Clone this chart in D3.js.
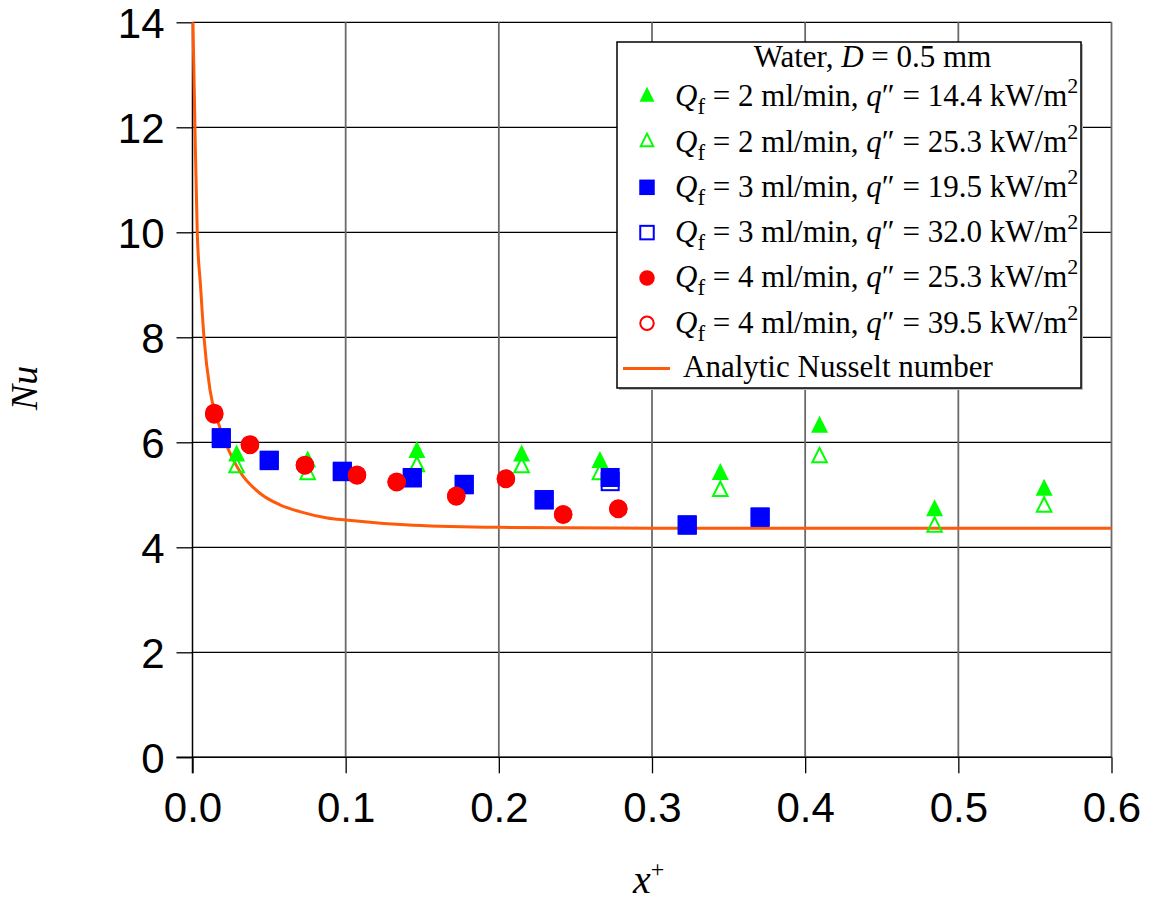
<!DOCTYPE html>
<html>
<head>
<meta charset="utf-8">
<script src="https://cdn.jsdelivr.net/npm/d3@7"></script>
<style>
  html, body { margin: 0; padding: 0; background: #fff; }
  svg { display: block; }
</style>
</head>
<body>
<svg id="chart" width="1149" height="902"></svg>
<script>
// Axis ticks
const xTicks = [0, 0.1, 0.2, 0.3, 0.4, 0.5, 0.6];
const yTicks = [0, 2, 4, 6, 8, 10, 12, 14];

// Qf = 2 ml/min, q'' = 14.4 kW/m2 (filled triangles)
const q2aX  = [0.0288, 0.0752, 0.1465, 0.2149, 0.2660, 0.3446, 0.4094, 0.4845, 0.5560];
const q2aNu = [5.74, 5.63, 5.81, 5.74, 5.62, 5.39, 6.29, 4.70, 5.09];
// Qf = 2 ml/min, q'' = 25.3 kW/m2 (open triangles)
const q2bX  = [0.0288, 0.0752, 0.1465, 0.2149, 0.2660, 0.3446, 0.4094, 0.4845, 0.5560];
const q2bNu = [5.52, 5.39, 5.54, 5.52, 5.39, 5.07, 5.71, 4.39, 4.77];
// Qf = 3 ml/min, q'' = 19.5 kW/m2 (filled squares)
const q3aX  = [0.0188, 0.0501, 0.0978, 0.1435, 0.1774, 0.2296, 0.2727, 0.3230, 0.3706];
const q3aNu = [6.09, 5.66, 5.45, 5.33, 5.20, 4.91, 5.33, 4.43, 4.58];
// Qf = 3 ml/min, q'' = 32.0 kW/m2 (open squares)
const q3bX  = [0.0188, 0.0501, 0.0978, 0.1435, 0.1774, 0.2296, 0.2727, 0.3230, 0.3706];
const q3bNu = [6.07, 5.65, 5.44, 5.32, 5.19, 4.90, 5.25, 4.42, 4.57];
// Qf = 4 ml/min, q'' = 25.3 kW/m2 (filled circles)
const q4aX  = [0.0142, 0.0375, 0.0734, 0.1074, 0.1333, 0.1722, 0.2046, 0.2420, 0.2780];
const q4aNu = [6.53, 5.96, 5.57, 5.38, 5.25, 4.98, 5.31, 4.63, 4.74];
// Qf = 4 ml/min, q'' = 39.5 kW/m2 (open circles)
const q4bX  = [0.0142, 0.0375, 0.0734, 0.1074, 0.1333, 0.1722, 0.2046, 0.2420, 0.2780];
const q4bNu = [6.56, 5.95, 5.56, 5.37, 5.24, 4.97, 5.30, 4.62, 4.73];

// Analytic Nusselt number along the tube
const anX  = [0.0003, 0.0016, 0.0031, 0.0052, 0.0075, 0.0114, 0.0160, 0.0212, 0.0310, 0.0440, 0.0570, 0.0700, 0.0880, 0.1000, 0.1440, 0.2000, 0.3000, 0.4000, 0.6000];
const anNu = [14.0, 12.0, 10.0, 9.0, 8.0, 7.0, 6.45, 6.02, 5.44, 5.03, 4.81, 4.68, 4.56, 4.52, 4.42, 4.38, 4.365, 4.364, 4.364];

const legendLabels = [
  { n: "2", q: "14.4" },
  { n: "2", q: "25.3" },
  { n: "3", q: "19.5" },
  { n: "3", q: "32.0" },
  { n: "4", q: "25.3" },
  { n: "4", q: "39.5" }
];

const GREEN = "#00ff00", BLUE = "#0000ff", RED = "#ff0000", ORANGE = "#ff5a0a";
const SERIF = "'Liberation Serif', 'Times New Roman', serif";
const SANS = "'Liberation Sans', Arial, sans-serif";

const svg = d3.select("#chart");
const x = d3.scaleLinear().domain([0, 0.6]).range([192.5, 1111.5]);
const y = d3.scaleLinear().domain([0, 14]).range([757.3, 22.3]);

// Grid
const grid = svg.append("g");
grid.selectAll("line.h").data(yTicks).join("line")
  .attr("x1", x(0)).attr("x2", x(0.6))
  .attr("y1", d => y(d)).attr("y2", d => y(d))
  .attr("stroke", "#000").attr("stroke-width", 1.3);
grid.selectAll("line.v").data(xTicks.slice(1)).join("line")
  .attr("x1", d => x(d)).attr("x2", d => x(d))
  .attr("y1", y(14)).attr("y2", y(0))
  .attr("stroke", "#6a6a6a").attr("stroke-width", 1.8);

// Axes
const yAxis = d3.axisLeft(y).tickValues(yTicks).tickFormat(d3.format("d")).tickSize(16).tickPadding(12);
const xAxis = d3.axisBottom(x).tickValues(xTicks).tickFormat(d3.format(".1f")).tickSize(16).tickPadding(19);
const gy = svg.append("g").attr("transform", `translate(${x(0)},0)`).call(yAxis);
const gx = svg.append("g").attr("transform", `translate(0,${y(0)})`).call(xAxis);
[gx, gy].forEach(g => {
  g.select(".domain").remove();
  g.selectAll(".tick line").attr("stroke", "#000").attr("stroke-width", 1.3);
  g.selectAll(".tick text").attr("fill", "#000").style("font-family", SANS).style("font-size", "42px");
});
gy.selectAll(".tick text").attr("dy", "0.37em");
svg.append("line").attr("x1", x(0)).attr("x2", x(0)).attr("y1", y(14)).attr("y2", y(0) + 16)
  .attr("stroke", "#000").attr("stroke-width", 1.5);
svg.append("line").attr("x1", x(0) - 16).attr("x2", x(0.6)).attr("y1", y(0)).attr("y2", y(0))
  .attr("stroke", "#000").attr("stroke-width", 1.5);

// Analytic curve
const line = d3.line().x(d => x(d[0])).y(d => y(d[1])).curve(d3.curveMonotoneX);
svg.append("path").datum(d3.zip(anX, anNu)).attr("d", line)
  .attr("fill", "none").attr("stroke", ORANGE).attr("stroke-width", 3);

// Marker shapes
function triPath(w, h) {
  return `M0,${-2 * h / 3}L${w / 2},${h / 3}L${-w / 2},${h / 3}Z`;
}
function drawMarker(g, kind, size) {
  const s = size;
  if (kind === "triF") {
    g.append("path").attr("d", triPath(s, s)).attr("fill", GREEN);
  } else if (kind === "triO") {
    g.append("path").attr("d", triPath(s - 2.5, s - 2.5)).attr("fill", "none").attr("stroke", GREEN).attr("stroke-width", 2);
  } else if (kind === "sqF") {
    g.append("rect").attr("x", -s / 2).attr("y", -s / 2).attr("width", s).attr("height", s).attr("fill", BLUE);
  } else if (kind === "sqO") {
    g.append("rect").attr("x", -s / 2 + 1).attr("y", -s / 2 + 1).attr("width", s - 2).attr("height", s - 2)
      .attr("fill", "none").attr("stroke", BLUE).attr("stroke-width", 2);
  } else if (kind === "ciF") {
    g.append("circle").attr("r", s / 2).attr("fill", RED);
  } else if (kind === "ciO") {
    g.append("circle").attr("r", s / 2 - 1).attr("fill", "none").attr("stroke", RED).attr("stroke-width", 2);
  }
}

const series = [
  { xs: q2aX, ys: q2aNu, kind: "triF", size: 17 },
  { xs: q2bX, ys: q2bNu, kind: "triO", size: 17 },
  { xs: q3bX, ys: q3bNu, kind: "sqO", size: 19 },
  { xs: q3aX, ys: q3aNu, kind: "sqF", size: 19 },
  { xs: q4bX, ys: q4bNu, kind: "ciO", size: 18.5 },
  { xs: q4aX, ys: q4aNu, kind: "ciF", size: 18.5 }
];
series.forEach(s => {
  const g = svg.append("g");
  d3.zip(s.xs, s.ys).forEach(p => {
    const m = g.append("g").attr("transform", `translate(${x(p[0])},${y(p[1])})`);
    drawMarker(m, s.kind, s.size);
  });
});

// Legend
const FS = "31px";
const lg = svg.append("g");
lg.append("rect").attr("x", 619).attr("y", 44).attr("width", 464).attr("height", 346).attr("fill", "#bbb");
lg.append("rect").attr("x", 617).attr("y", 42).attr("width", 464).attr("height", 346)
  .attr("fill", "#fff").attr("stroke", "#000").attr("stroke-width", 1.5);

const title = lg.append("text").attr("x", 872.5).attr("y", 67).attr("text-anchor", "middle")
  .style("font-family", SERIF).style("font-size", FS).attr("fill", "#000");
title.append("tspan").text("Water, ");
title.append("tspan").attr("font-style", "italic").text("D");
title.append("tspan").text(" = 0.5 mm");

const legendKinds = ["triF", "triO", "sqF", "sqO", "ciF", "ciO"];
legendLabels.forEach((d, i) => {
  const cy = 96.7 + i * 45.3;
  const m = lg.append("g").attr("transform", `translate(647,${cy})`);
  drawMarker(m, legendKinds[i], legendKinds[i].startsWith("tri") ? 15 : 15.5);
  const t = lg.append("text").attr("x", 675).attr("y", cy + 9.5)
    .style("font-family", SERIF).style("font-size", FS).attr("fill", "#000");
  t.append("tspan").attr("font-style", "italic").text("Q");
  t.append("tspan").attr("font-size", "23px").attr("dy", 8).text("f");
  t.append("tspan").attr("dy", -8).text(` = ${d.n} ml/min, `);
  t.append("tspan").attr("font-style", "italic").text("q");
  t.append("tspan").text(`\u2033 = ${d.q} kW/m`);
  t.append("tspan").attr("font-size", "22px").attr("dy", -13).text("2");
});
const ly = 96.7 + 6 * 45.3;
lg.append("line").attr("x1", 623).attr("x2", 670).attr("y1", ly).attr("y2", ly)
  .attr("stroke", ORANGE).attr("stroke-width", 3);
lg.append("text").attr("x", 683).attr("y", ly + 8.5)
  .style("font-family", SERIF).style("font-size", FS).attr("fill", "#000")
  .text("Analytic Nusselt number");

// Axis titles
svg.append("text").attr("transform", "translate(37,388) rotate(-90)").attr("text-anchor", "middle")
  .style("font-family", SERIF).style("font-size", "38px").style("font-style", "italic").attr("fill", "#000")
  .text("Nu");
const xl = svg.append("text").attr("x", 633).attr("y", 893)
  .style("font-family", SERIF).style("font-size", "40px").attr("fill", "#000");
xl.append("tspan").attr("font-style", "italic").text("x");
xl.append("tspan").attr("font-size", "24px").attr("dy", -16).text("+");
</script>
</body>
</html>
